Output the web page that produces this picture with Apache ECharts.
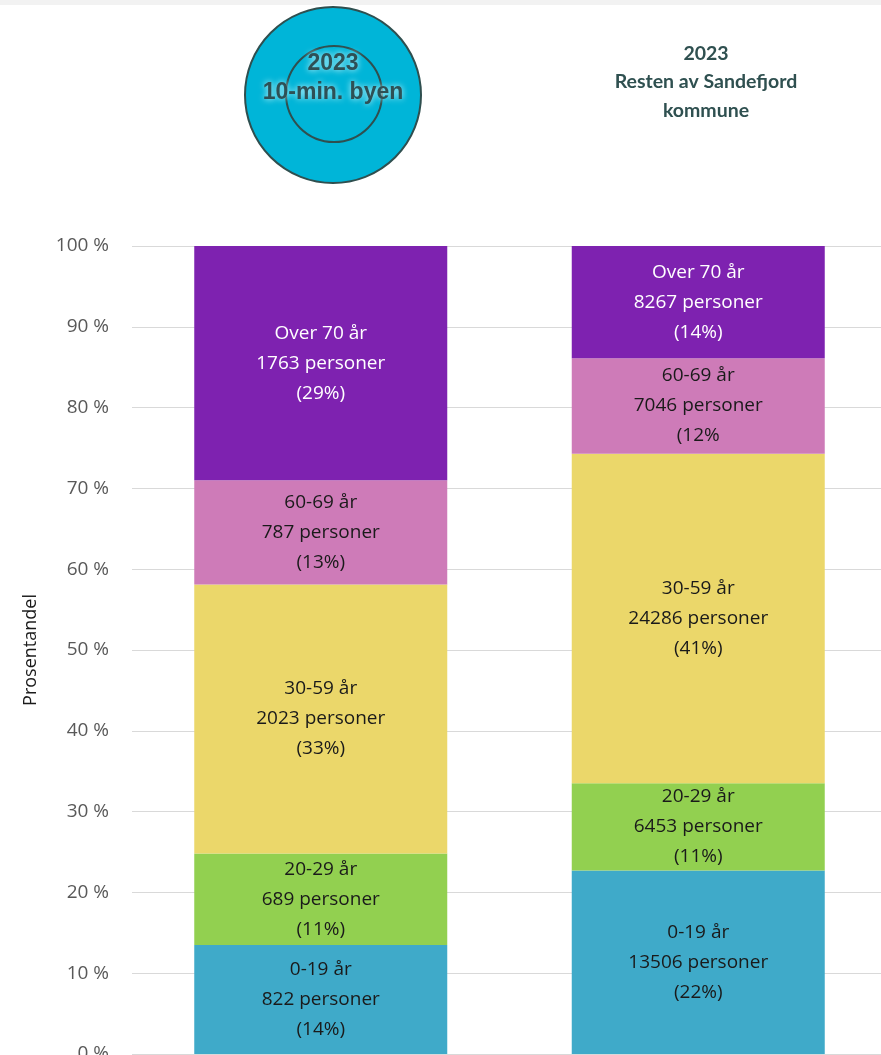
<!DOCTYPE html>
<html>
<head>
<meta charset="utf-8">
<script src="https://cdn.jsdelivr.net/npm/echarts@6/dist/echarts.min.js"></script>
<style>
  html, body { margin: 0; padding: 0; background: #fff; }
  #chart { width: 881px; height: 1055px; }
</style>
</head>
<body>
<div id="chart"></div>
<script>
// categories (the two bars)
var areas = ['2023 10-min. byen', '2023 Resten av Sandefjord kommune'];
// age groups, bottom to top
var groups = ['0-19 år', '20-29 år', '30-59 år', '60-69 år', 'Over 70 år'];
var colors = ['#3FAAC9', '#92D050', '#EBD76A', '#CE7BB8', '#7E22B0'];

// persons per group [byen, resten]
var persons0_19 = [822, 13506];
var persons20_29 = [689, 6453];
var persons30_59 = [2023, 24286];
var persons60_69 = [787, 7046];
var personsOver70 = [1763, 8267];

// share in percent (bar heights) [byen, resten]
var share0_19 = [13.5, 22.7];
var share20_29 = [11.3, 10.8];
var share30_59 = [33.3, 40.8];
var share60_69 = [12.9, 11.8];
var shareOver70 = [29.0, 13.9];

// percent text as printed in the labels
var pct0_19 = ['(14%)', '(22%)'];
var pct20_29 = ['(11%)', '(11%)'];
var pct30_59 = ['(33%)', '(41%)'];
var pct60_69 = ['(13%)', '(12%'];
var pctOver70 = ['(29%)', '(14%)'];

var yTicks = [0, 10, 20, 30, 40, 50, 60, 70, 80, 90, 100];

var persons = [persons0_19, persons20_29, persons30_59, persons60_69, personsOver70];
var shares = [share0_19, share20_29, share30_59, share60_69, shareOver70];
var pcts = [pct0_19, pct20_29, pct30_59, pct60_69, pctOver70];

var myChart = echarts.init(document.getElementById('chart'));

var series = groups.map(function (g, i) {
  return {
    name: g,
    type: 'bar',
    stack: 'total',
    barWidth: 253,
    data: shares[i],
    itemStyle: { color: colors[i] },
    label: {
      show: true,
      position: 'inside',
      fontFamily: 'Open Sans',
      fontSize: 19,
      lineHeight: 30,
      color: i === 4 ? '#ffffff' : '#1a1a1a',
      formatter: function (p) {
        return g + '\n' + persons[i][p.dataIndex] + ' personer\n' + pcts[i][p.dataIndex];
      }
    }
  };
});

var option = {
  animation: false,
  backgroundColor: '#ffffff',
  grid: { left: 132, top: 246, width: 755, height: 808, outerBoundsMode: 'none', containLabel: false },
  xAxis: {
    type: 'category',
    data: areas,
    axisLine: { show: false },
    axisTick: { show: false },
    axisLabel: { show: false }
  },
  yAxis: {
    type: 'value',
    min: yTicks[0],
    max: yTicks[yTicks.length - 1],
    interval: 10,
    name: 'Prosentandel',
    nameLocation: 'middle',
    nameGap: 92,
    nameTextStyle: { fontFamily: 'Open Sans', fontSize: 18, color: '#1a1a1a' },
    axisLine: { show: false },
    axisTick: { show: false },
    axisLabel: {
      fontFamily: 'Open Sans',
      fontSize: 19,
      color: '#595959',
      margin: 23,
      formatter: '{value} %'
    },
    splitLine: { lineStyle: { color: '#d9d9d9', width: 1 } }
  },
  graphic: [
    { type: 'rect', shape: { x: 0, y: 0, width: 881, height: 5 }, style: { fill: '#f2f2f2' } },
    { type: 'circle', shape: { cx: 333, cy: 95, r: 88 }, style: { fill: '#00B5D8', stroke: '#2F4F4F', lineWidth: 2 } },
    { type: 'circle', shape: { cx: 334, cy: 94, r: 48 }, style: { fill: 'transparent', stroke: '#2F4F4F', lineWidth: 2 } },
    {
      type: 'text', x: 333, y: 78,
      style: {
        text: '2023\n10-min. byen', fontFamily: 'Liberation Sans', fontWeight: 'bold', fontSize: 23,
        lineHeight: 29, fill: '#2E5055', align: 'center', verticalAlign: 'middle',
        textShadowColor: '#D8FAFF', textShadowBlur: 6
      }
    },
    {
      type: 'text', x: 706, y: 82,
      style: {
        text: '2023\nResten av Sandefjord\nkommune', fontFamily: 'Lato', fontWeight: 'bold', fontSize: 19.5,
        lineHeight: 28.5, fill: '#2F5050', align: 'center', verticalAlign: 'middle'
      }
    }
  ],
  series: series
};

myChart.setOption(option);
</script>
</body>
</html>
